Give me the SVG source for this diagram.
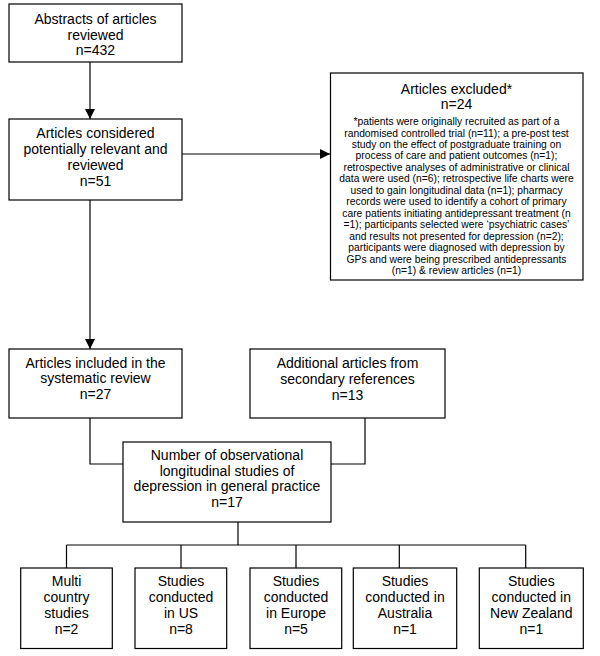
<svg xmlns="http://www.w3.org/2000/svg" width="600" height="656" viewBox="0 0 600 656">
<defs>
<style>
.box{fill:#fff;stroke:#000;stroke-width:1.2}
.t{font-family:"Liberation Sans",Arial,sans-serif;font-size:14px;fill:#000;text-anchor:middle}
.s{font-family:"Liberation Sans",Arial,sans-serif;font-size:10.3px;fill:#000;text-anchor:middle}
.ln{fill:none;stroke:#000;stroke-width:1.2}
</style>
<marker id="ah" markerWidth="10" markerHeight="10" refX="10" refY="5" orient="auto" markerUnits="userSpaceOnUse">
<path d="M0,0 L10,5 L0,10 Z" fill="#000"/>
</marker>
</defs>
<rect width="600" height="656" fill="#fff"/>
<g id="connectors">
<line class="ln" x1="90" y1="62" x2="90" y2="119" marker-end="url(#ah)"/>
<line class="ln" x1="182" y1="154" x2="330" y2="154" marker-end="url(#ah)"/>
<line class="ln" x1="90" y1="200" x2="90" y2="349" marker-end="url(#ah)"/>
<polyline class="ln" points="90,418 90,464 123,464"/>
<polyline class="ln" points="365,418 365,464 331,464"/>
<line class="ln" x1="238" y1="522" x2="238" y2="545"/>
<line class="ln" x1="66.5" y1="545" x2="525.7" y2="545"/>
<line class="ln" x1="66.5" y1="545" x2="66.5" y2="568"/>
<line class="ln" x1="181" y1="545" x2="181" y2="568"/>
<line class="ln" x1="296" y1="545" x2="296" y2="568"/>
<line class="ln" x1="399.3" y1="545" x2="399.3" y2="568"/>
<line class="ln" x1="525.7" y1="545" x2="525.7" y2="568"/>
</g>
<g id="abstracts">
<rect class="box" x="9" y="4" width="173" height="58"/>
<text class="t" x="95.5" y="23.5">Abstracts of articles</text>
<text class="t" x="95.5" y="39.5">reviewed</text>
<text class="t" x="95.5" y="55">n=432</text>
</g>
<g id="considered">
<rect class="box" x="9" y="119" width="173" height="81"/>
<text class="t" x="95.5" y="138">Articles considered</text>
<text class="t" x="95.5" y="154">potentially relevant and</text>
<text class="t" x="95.5" y="170">reviewed</text>
<text class="t" x="95.5" y="186">n=51</text>
</g>
<g id="excluded">
<rect class="box" x="330.5" y="73" width="252.5" height="207"/>
<text class="t" x="456.5" y="93.5">Articles excluded*</text>
<text class="t" x="456.5" y="109">n=24</text>
<text class="s" x="456.5" y="125">*patients were originally recruited as part of a</text>
<text class="s" x="456.5" y="136.5">randomised controlled trial (n=11); a pre-post test</text>
<text class="s" x="456.5" y="148">study on the effect of postgraduate training on</text>
<text class="s" x="456.5" y="159.4">process of care and patient outcomes (n=1);</text>
<text class="s" x="456.5" y="170.8">retrospective analyses of administrative or clinical</text>
<text class="s" x="456.5" y="182.3">data were used (n=6); retrospective life charts were</text>
<text class="s" x="456.5" y="193.8">used to gain longitudinal data (n=1);  pharmacy</text>
<text class="s" x="456.5" y="205.2">records were used to identify a  cohort of primary</text>
<text class="s" x="456.5" y="216.6">care patients initiating antidepressant treatment (n</text>
<text class="s" x="456.5" y="228.1">=1); participants selected were ‘psychiatric cases’</text>
<text class="s" x="456.5" y="239.5">and results not presented for  depression (n=2);</text>
<text class="s" x="456.5" y="251">participants were diagnosed with depression by</text>
<text class="s" x="456.5" y="262.5">GPs and were  being prescribed antidepressants</text>
<text class="s" x="456.5" y="274">(n=1) &amp; review articles (n=1)</text>
</g>
<g id="included">
<rect class="box" x="9" y="349" width="173" height="69"/>
<text class="t" x="95.5" y="367.5">Articles included in the</text>
<text class="t" x="95.5" y="383">systematic review</text>
<text class="t" x="95.5" y="398.5">n=27</text>
</g>
<g id="additional">
<rect class="box" x="250" y="349" width="195" height="69"/>
<text class="t" x="347.5" y="367.5">Additional articles from</text>
<text class="t" x="347.5" y="383.5">secondary references</text>
<text class="t" x="347.5" y="399.5">n=13</text>
</g>
<g id="observational">
<rect class="box" x="123" y="442" width="208" height="80"/>
<text class="t" x="227" y="459.5">Number of observational</text>
<text class="t" x="227" y="475.5">longitudinal studies of</text>
<text class="t" x="227" y="491">depression in general practice</text>
<text class="t" x="227" y="507">n=17</text>
</g>
<g id="multi">
<rect class="box" x="20.7" y="568" width="91.6" height="80.5"/>
<text class="t" x="66.5" y="586">Multi</text>
<text class="t" x="66.5" y="602">country</text>
<text class="t" x="66.5" y="618">studies</text>
<text class="t" x="66.5" y="634">n=2</text>
</g>
<g id="us">
<rect class="box" x="135" y="568" width="91.7" height="80.5"/>
<text class="t" x="181" y="586">Studies</text>
<text class="t" x="181" y="602">conducted</text>
<text class="t" x="181" y="618">in US</text>
<text class="t" x="181" y="634">n=8</text>
</g>
<g id="europe">
<rect class="box" x="250" y="568" width="91.7" height="80.5"/>
<text class="t" x="296" y="586">Studies</text>
<text class="t" x="296" y="602">conducted</text>
<text class="t" x="296" y="618">in Europe</text>
<text class="t" x="296" y="634">n=5</text>
</g>
<g id="australia">
<rect class="box" x="353.3" y="568" width="103.4" height="80.5"/>
<text class="t" x="405" y="586">Studies</text>
<text class="t" x="405" y="602">conducted in</text>
<text class="t" x="405" y="618">Australia</text>
<text class="t" x="405" y="634">n=1</text>
</g>
<g id="newzealand">
<rect class="box" x="479.3" y="568" width="104" height="80.5"/>
<text class="t" x="531.3" y="586">Studies</text>
<text class="t" x="531.3" y="602">conducted in</text>
<text class="t" x="531.3" y="618">New Zealand</text>
<text class="t" x="531.3" y="634">n=1</text>
</g>
</svg>
